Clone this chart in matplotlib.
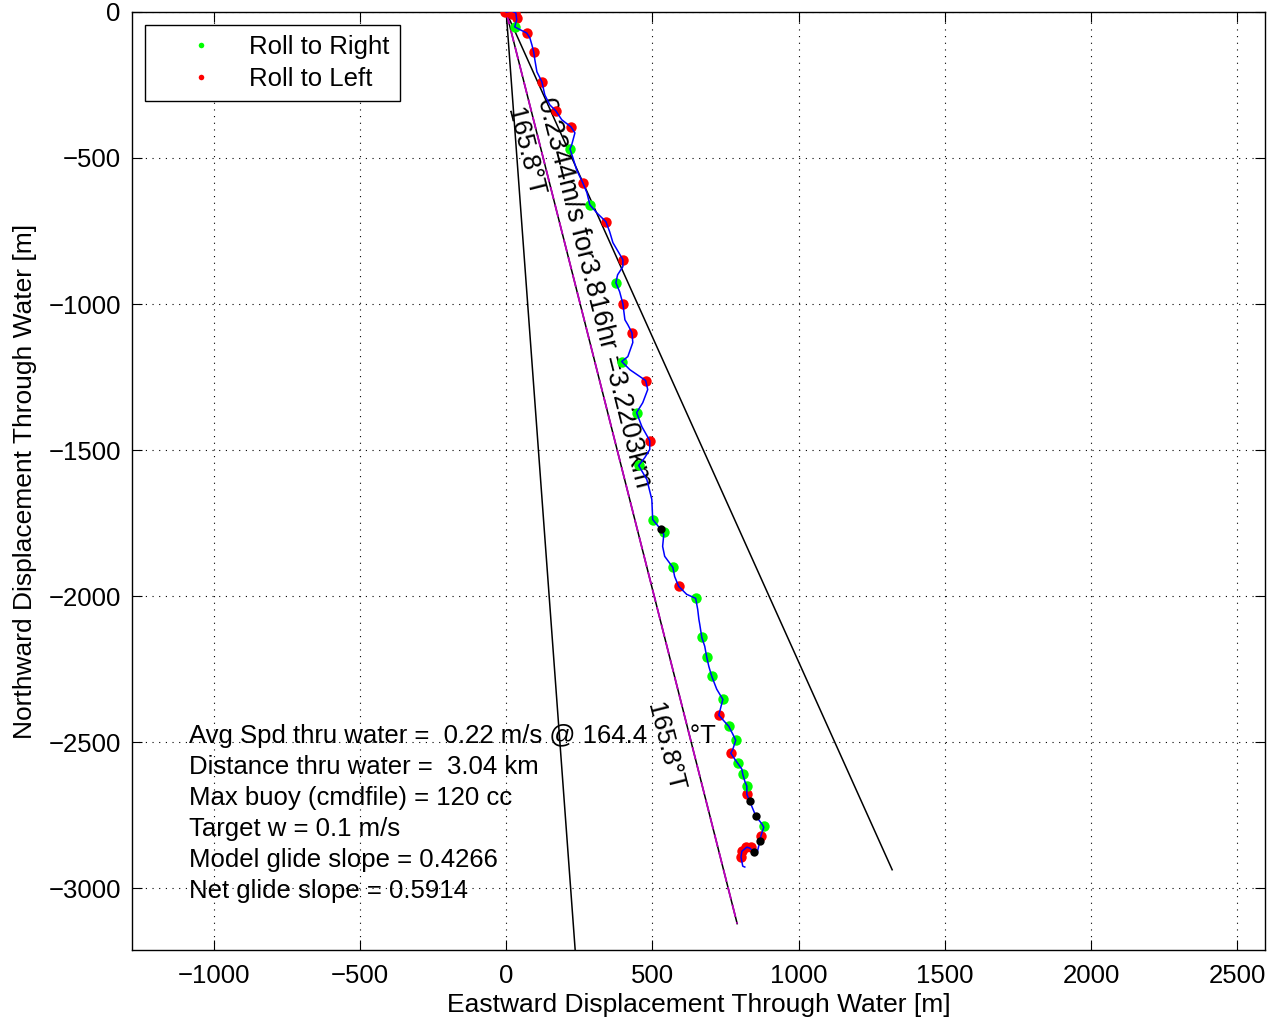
import numpy as np
import matplotlib
matplotlib.use("Agg")
import matplotlib.pyplot as plt
from matplotlib.lines import Line2D

plt.rcParams['font.family'] = ['Liberation Sans', 'DejaVu Sans']

# glider track through water [m]
track_east = [0, 19, 33, 36, 29, 50, 70, 81, 88, 94, 98, 105, 122, 132, 149, 170, 190, 221,
              235, 224, 218, 228, 241, 262, 276, 286, 310, 341, 354, 365, 399, 399, 381, 375,
              388, 399, 406, 416, 430, 433, 416, 395, 423, 477, 484, 467, 446, 464, 491, 491,
              474, 453, 481, 498, 501, 529, 539, 535, 542, 570, 576, 590, 617, 648, 655, 659,
              662, 669, 679, 686, 693, 703, 720, 741, 727, 761, 775, 785, 775, 768, 782, 792,
              806, 809, 816, 823, 823, 833, 844, 854, 875, 881, 875, 871, 868, 861, 858, 847,
              833, 823, 806, 803, 809, 816]
track_north = [0, 3, -3, -27, -51, -62, -72, -89, -113, -137, -164, -205, -239, -284, -318,
               -339, -369, -393, -414, -455, -469, -499, -541, -585, -619, -660, -688, -718,
               -753, -790, -848, -872, -900, -927, -958, -999, -1054, -1071, -1098, -1132,
               -1180, -1197, -1225, -1262, -1293, -1338, -1372, -1420, -1468, -1498, -1526,
               -1553, -1601, -1669, -1738, -1772, -1789, -1830, -1864, -1902, -1933, -1967,
               -1994, -2008, -2046, -2080, -2097, -2142, -2172, -2210, -2241, -2275, -2319,
               -2354, -2408, -2446, -2473, -2494, -2525, -2538, -2559, -2573, -2593, -2610,
               -2634, -2651, -2679, -2703, -2730, -2754, -2781, -2792, -2809, -2822, -2839,
               -2867, -2881, -2877, -2863, -2860, -2874, -2894, -2925, -2928]

# roll events
left_east = [-5, 12, 19, 29, 36, 70, 94, 122, 170, 221, 262, 341, 399, 399, 430, 477, 491,
             590, 727, 768, 823, 871, 806, 820, 837, 803]
left_north = [0, 7, -7, -3, -21, -72, -137, -239, -339, -393, -585, -718, -848, -999, -1098,
              -1262, -1468, -1967, -2408, -2538, -2679, -2822, -2874, -2860, -2860, -2894]
right_east = [29, 218, 286, 375, 395, 446, 453, 501, 539, 570, 648, 669, 686, 703, 741, 761,
              785, 792, 809, 823, 881]
right_north = [-51, -469, -660, -927, -1197, -1372, -1553, -1738, -1782, -1902, -2008, -2142,
               -2210, -2275, -2354, -2446, -2494, -2573, -2610, -2651, -2788]
other_east = [529, 833, 854, 868, 847]
other_north = [-1772, -2703, -2754, -2839, -2877]

heading = 165.8      # deg true
cone = [155.8, 165.8, 175.8]
dist_m = 3220.3

FS = 18.5

fig = plt.figure(figsize=(12.75, 10.24), dpi=100)
ax = fig.add_axes([0.1035, 0.0723, 0.8886, 0.9160])

# heading lines
for h in cone:
    ex = dist_m * np.sin(np.radians(h))
    ny = dist_m * np.cos(np.radians(h))
    ax.plot([0, ex], [0, ny], color='k', lw=1.1, zorder=2)
ex = dist_m * np.sin(np.radians(heading))
ny = dist_m * np.cos(np.radians(heading))
ax.plot([0, ex], [0, ny], color='m', lw=1.3, ls=(0, (7, 3)), zorder=3)

ax.plot(left_east, left_north, 'o', color='r', ms=7.5, mec='none', zorder=4)
ax.plot(right_east, right_north, 'o', color='#00ff00', ms=7.5, mec='none', zorder=4)
ax.plot(track_east, track_north, color='b', lw=1.1, zorder=5)
ax.plot(other_east, other_north, 'o', color='k', ms=6, mec='none', zorder=6)

rot = -(90 - (180 - heading))
ax.text(63, -479, '165.8°T', rotation=rot, rotation_mode='anchor',
        ha='center', va='center', fontsize=FS)
ax.text(300, -960, '0.2344m/s for3.816hr =3.2203km', rotation=rot, rotation_mode='anchor',
        ha='center', va='center', fontsize=19.5)
ax.text(543, -2518, '165.8°T', rotation=rot, rotation_mode='anchor',
        ha='center', va='center', fontsize=FS)

info = ['Avg Spd thru water =  0.22 m/s @ 164.4      °T',
        'Distance thru water =  3.04 km',
        'Max buoy (cmdfile) = 120 cc',
        'Target w = 0.1 m/s',
        'Model glide slope = 0.4266',
        'Net glide slope = 0.5914']
for i, s in enumerate(info):
    ax.text(-1086, -2480 - i * 106, s, ha='left', va='center', fontsize=FS)

ax.set_xlim(-1280, 2595)
ax.set_ylim(-3212, 0)
ax.set_xticks(np.arange(-1000, 2501, 500))
ax.set_yticks(np.arange(-3000, 1, 500))
ax.grid(True, color='k', ls=(0, (1, 5)), lw=0.8)
ax.tick_params(direction='in', length=7, top=True, right=True, labelsize=FS)
ax.tick_params(axis='x', pad=10)
ax.tick_params(axis='y', pad=8)
for sp in ax.spines.values():
    sp.set_linewidth(1.0)
ax.set_xlabel('Eastward Displacement Through Water [m]', fontsize=19, labelpad=4)
ax.set_ylabel('Northward Displacement Through Water [m]', fontsize=19, labelpad=8)

handles = [Line2D([], [], ls='none', marker='o', color='#00ff00', ms=4, mec='none'),
           Line2D([], [], ls='none', marker='o', color='r', ms=4, mec='none')]
leg = ax.legend(handles, ['Roll to Right', 'Roll to Left'], loc='upper left',
                bbox_to_anchor=(0.0115, 0.986), fontsize=FS, fancybox=False,
                framealpha=1, edgecolor='k', borderpad=0.4, labelspacing=0.3,
                handlelength=3.58, handletextpad=0.08, borderaxespad=0)
leg.get_frame().set_linewidth(1.0)

fig.savefig('out.png', dpi=100)
